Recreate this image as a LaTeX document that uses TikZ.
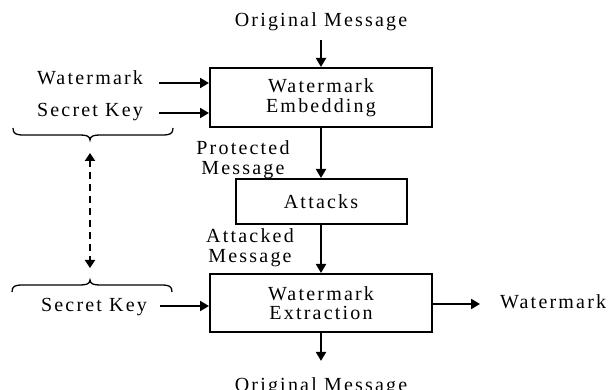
\documentclass[tikz,border=0pt]{standalone}
\usepackage{fontspec}
\setmainfont{Liberation Serif}[LetterSpace=11]
\usetikzlibrary{arrows.meta}
\begin{document}
\begin{tikzpicture}[x=1pt,y=-1pt,
  lbl/.style={font=\fontsize{20}{19.5}\selectfont, inner sep=0pt},
  box/.style={draw, line width=2pt, inner sep=0pt, align=center, font=\fontsize{20}{19.5}\selectfont},
  arr/.style={line width=2pt, -{Triangle[length=9pt,width=10pt]}},
  darr/.style={line width=2.2pt, dash pattern=on 7pt off 5pt,
    {Triangle[length=8pt,width=10pt]}-{Triangle[length=8pt,width=10pt]}},
  brc/.style={line width=1.3pt}]
\useasboundingbox (0,0) rectangle (616,390);

% boxes
\node[box, minimum width=222pt, minimum height=59pt] (emb) at (321,97.5) {Watermark\\Embedding};
\node[box, minimum width=171pt, minimum height=45pt] (att) at (321,201.5) {Attacks};
\node[box, minimum width=222pt, minimum height=58pt] (ext) at (321,303) {Watermark\\Extraction};

% labels
\node[lbl, anchor=base] (om1) at (321,27) {Original Message};
\node[lbl, anchor=base] (wml) at (90,85) {Watermark};
\node[lbl, anchor=base] (sk1) at (90,117) {Secret Key};
\node[lbl, align=center] (prot) at (243,159.5) {Protected\\Message};
\node[lbl, align=center] (atkd) at (250,247.8) {Attacked\\Message};
\node[lbl, anchor=base] (sk2) at (94,312) {Secret Key};
\node[lbl, anchor=base west] (wmr) at (500,308) {Watermark};
\node[lbl, anchor=base] (om2) at (321,391) {Original Message};

% arrows
\draw[arr, shorten <=8pt] (om1.south) -- (emb.north);
\draw[arr] ([shift={(16pt,2pt)}]wml.base east) -- ([yshift=2pt]wml.base east -| emb.west);
\draw[arr] ([shift={(16pt,4pt)}]sk1.base east) -- ([yshift=4pt]sk1.base east -| emb.west);
\draw[arr] (emb.south) -- (att.north);
\draw[arr] (att.south) -- (ext.north);
\draw[arr] ([shift={(13pt,6pt)}]sk2.base east) -- ([yshift=6pt]sk2.base east -| ext.west);
\draw[arr] ([yshift=4pt]wmr.base west -| ext.east) -- ([shift={(-20pt,4pt)}]wmr.base west);
\draw[arr, shorten >=16pt] (ext.south) -- (om2.north);

% braces
\draw[brc] (13,128) .. controls (13,134) and (16,135) .. (24,135) -- (80,135)
  .. controls (86,135) and (90,136) .. (90,140)
  .. controls (90,136) and (94,135) .. (100,135) -- (162,135)
  .. controls (170,135) and (173,134) .. (173,128);
\draw[brc] (12,292) .. controls (12,286) and (15,285) .. (23,285) -- (80,285)
  .. controls (86,285) and (90,284) .. (90,280)
  .. controls (90,284) and (94,285) .. (100,285) -- (161,285)
  .. controls (169,285) and (172,286) .. (172,292);
\coordinate (b1) at (90,140);
\coordinate (b2) at (90,280);
\draw[darr, shorten <=13pt, shorten >=12pt] (b1) -- (b2);
\end{tikzpicture}
\end{document}
